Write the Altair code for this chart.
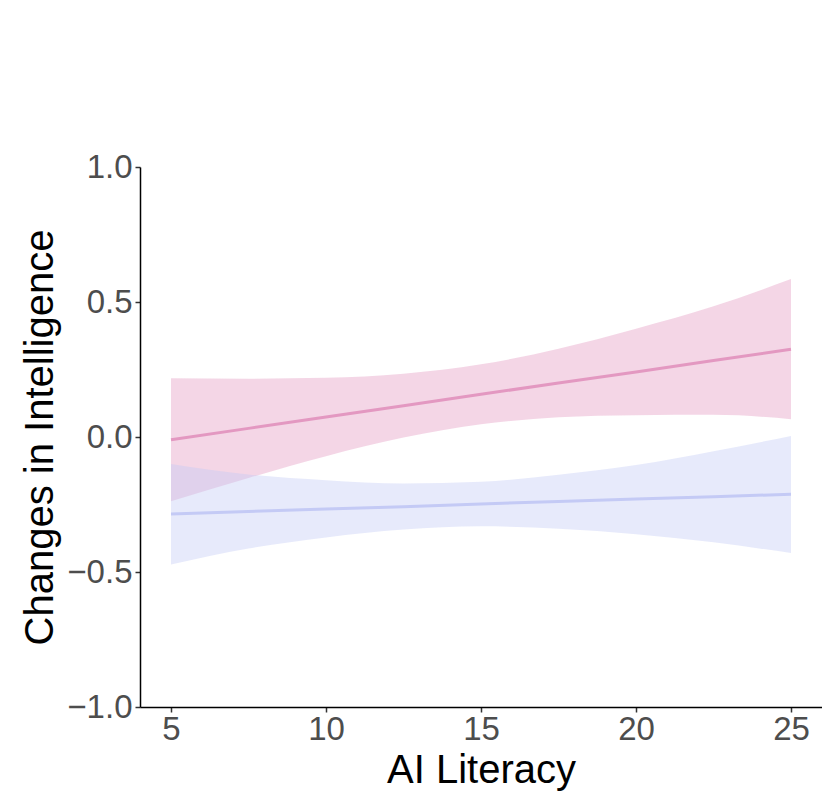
import altair as alt
import pandas as pd

# Values
x_vals = [5, 7.5, 10, 12.5, 15, 17.5, 20, 22.5, 25]

pink_fit = [-0.010, 0.032, 0.074, 0.116, 0.158, 0.200, 0.241, 0.283, 0.325]
pink_hi = [0.218, 0.216, 0.219, 0.234, 0.269, 0.327, 0.401, 0.484, 0.585]
pink_lo = [-0.238, -0.152, -0.071, -0.002, 0.047, 0.073, 0.081, 0.082, 0.066]

blue_fit = [-0.285, -0.276, -0.267, -0.258, -0.248, -0.239, -0.230, -0.221, -0.212]
blue_hi = [-0.100, -0.139, -0.160, -0.172, -0.166, -0.140, -0.104, -0.053, 0.004]
blue_lo = [-0.472, -0.413, -0.372, -0.343, -0.331, -0.340, -0.360, -0.390, -0.430]

groups = ["pink", "blue"]
colors = ["#E398C1", "#C4CAF5"]

rows = []
for i, x in enumerate(x_vals):
    rows.append({"x": x, "g": "pink", "fit": pink_fit[i], "lo": pink_lo[i], "hi": pink_hi[i]})
    rows.append({"x": x, "g": "blue", "fit": blue_fit[i], "lo": blue_lo[i], "hi": blue_hi[i]})
df = pd.DataFrame(rows)

FONT = "Liberation Sans"

xscale = alt.Scale(domain=[4, 26], nice=False, zero=False)
yscale = alt.Scale(domain=[-1, 1], nice=False, zero=False)
cscale = alt.Scale(domain=groups, range=colors)

xaxis = alt.Axis(
    values=[5, 10, 15, 20, 25], title="AI Literacy", grid=False,
    labelFont=FONT, labelFontSize=33, labelColor="#4D4D4D", labelPadding=1,
    tickSize=5, tickColor="#333333", tickWidth=1.5,
    domainColor="black", domainWidth=1.5,
    titleFont=FONT, titleFontSize=40, titleFontWeight="normal", titleColor="black",
    titleX=341, titleY=75, titleBaseline="alphabetic", titleAlign="center",
)
yaxis = alt.Axis(
    values=[-1, -0.5, 0, 0.5, 1], format=".1f", title="Changes in Intelligence", grid=False,
    labelFont=FONT, labelFontSize=33, labelColor="#4D4D4D", labelPadding=3,
    tickSize=5, tickColor="#333333", tickWidth=1.5,
    domainColor="black", domainWidth=1.5,
    titleFont=FONT, titleFontSize=40, titleFontWeight="normal", titleColor="black",
    titleX=-88, titleY=270, titleBaseline="alphabetic", titleAlign="center", titleAngle=-90,
)

base = alt.Chart(df)

band = base.mark_area(opacity=0.4, interpolate="monotone").encode(
    x=alt.X("x:Q", scale=xscale, axis=xaxis),
    y=alt.Y("lo:Q", scale=yscale, axis=yaxis),
    y2="hi:Q",
    color=alt.Color("g:N", scale=cscale, legend=None),
    detail="g:N",
)

line = base.mark_line(strokeWidth=3).encode(
    x=alt.X("x:Q", scale=xscale),
    y=alt.Y("fit:Q", scale=yscale),
    color=alt.Color("g:N", scale=cscale, legend=None),
    detail="g:N",
)

chart = alt.layer(band, line).properties(
    width=682, height=540,
    autosize=alt.AutoSizeParams(type="none"),
    padding={"left": 132, "top": 159, "right": 0, "bottom": 84},
    background="white",
).configure_view(stroke=None)

chart.save("out.html", embed_options={"renderer": "svg", "actions": False})
